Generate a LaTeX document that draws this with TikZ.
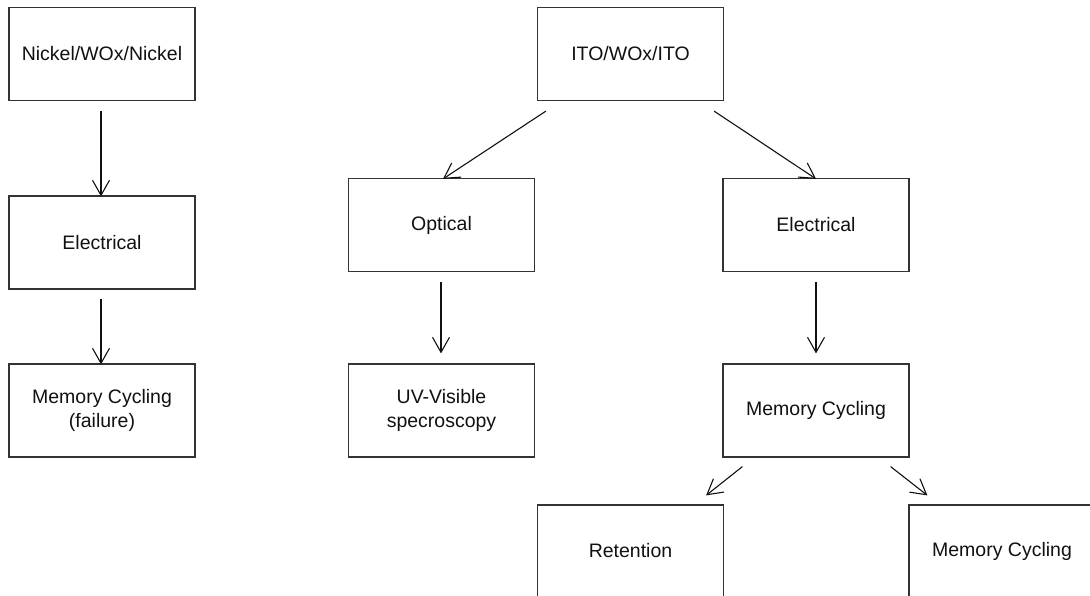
\documentclass[tikz,border=0pt]{standalone}
\usepackage{fontspec}
\setmainfont{Liberation Sans}
\usetikzlibrary{arrows.meta,calc}
\definecolor{boxline}{HTML}{333333}
\definecolor{ink}{HTML}{111111}
\tikzset{
  box/.style={draw=boxline, line width=1.2pt, fill=white, minimum width=186pt,
    minimum height=93pt, inner sep=0pt, align=center, text=ink,
    font=\fontsize{19.5}{24}\selectfont},
  link/.style={draw=ink, line width=1.1pt,
    -{Straight Barb[length=15pt,width=17pt,line width=1.1pt]}}
}
\begin{document}
\begin{tikzpicture}[x=1pt,y=-1pt]
\useasboundingbox (0,0) rectangle (1090,596);
\clip (0,0) rectangle (1090,596);
% left chain
\node[box] (nwn) at (102,54) {Nickel/WOx/Nickel};
\node[box] (elL) at (102,242.5) {Electrical};
\node[box] (memL) at (102,410.5) {Memory Cycling\\(failure)};
% right tree
\node[box] (ito) at (630.5,54) {ITO/WOx/ITO};
\node[box] (opt) at (441.5,225) {Optical};
\node[box] (elR) at (816,225) {Electrical};
\node[box] (uv) at (441.5,410.5) {UV-Visible\\specroscopy};
\node[box] (memR) at (816,410.5) {Memory Cycling};
\node[box, minimum height=92pt] (ret) at (630.5,551) {Retention};
\node[box, minimum height=92pt] (memC) at (1002,551) {Memory Cycling};
% connectors
\draw[link] ($(nwn.south)+(-1,10)$) -- ($(elL.north)+(-1,1)$);
\draw[link] ($(elL.south)+(-1,9)$) -- ($(memL.north)+(-1,1)$);
\draw[link] ($(ito.south west)+(9,10)$) -- ($(opt.north)+(1.5,1)$);
\draw[link] ($(ito.south east)+(-10,10)$) -- ($(elR.north)+(0,1)$);
\draw[link] ($(opt.south)+(-0.5,10)$) -- ($(uv.north)+(-0.5,-10)$);
\draw[link] ($(elR.south)+(0,10)$) -- ($(memR.north)+(0,-10)$);
\draw[link] ($(memR.south west)+(20,9)$) -- ($(ret.north east)+(-18,-9)$);
\draw[link] ($(memR.south east)+(-19,9)$) -- ($(memC.north west)+(19,-9)$);
\end{tikzpicture}
\end{document}
